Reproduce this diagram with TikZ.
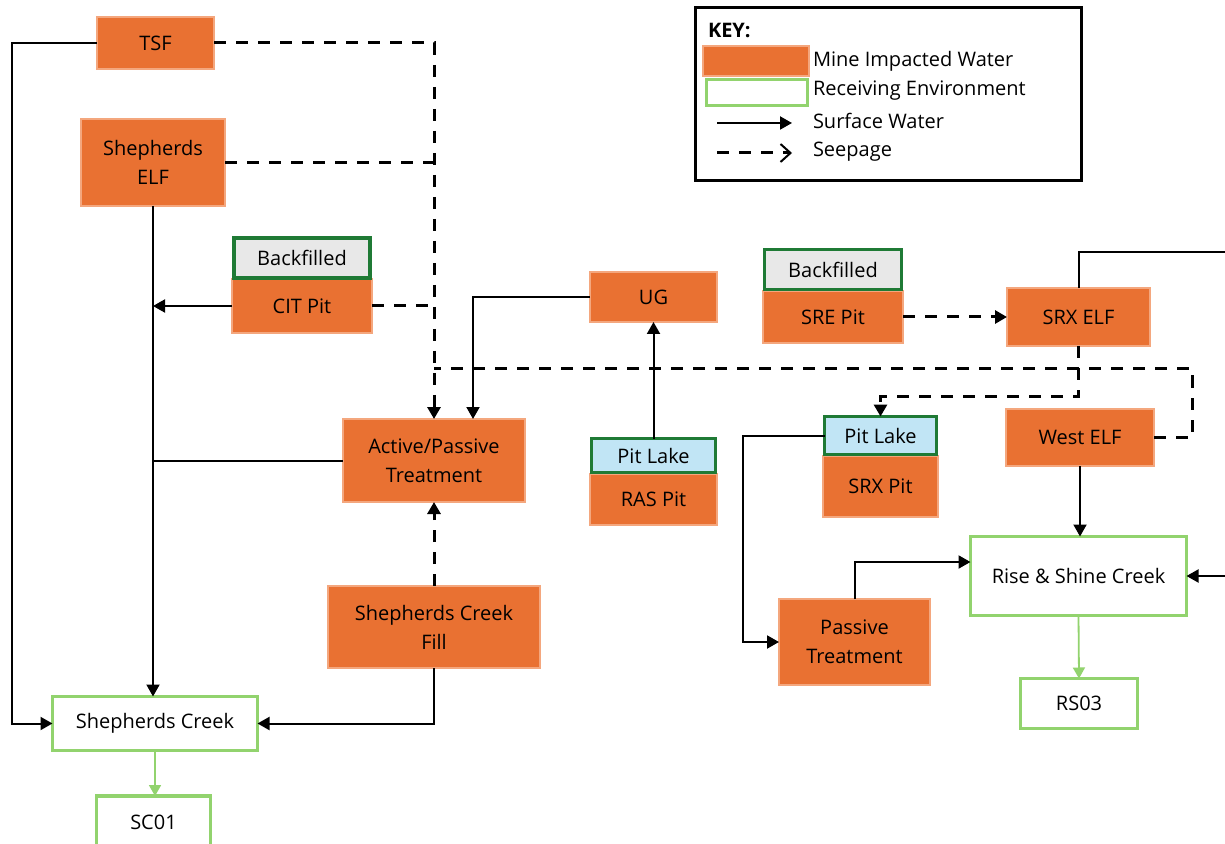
\documentclass[tikz,border=0pt]{standalone}
\usepackage{fontspec}
\setmainfont{Open Sans}
\usetikzlibrary{arrows.meta,calc}
\definecolor{mineor}{HTML}{E97132}
\definecolor{mineedge}{HTML}{F4A77E}
\definecolor{recgreen}{HTML}{92D36E}
\definecolor{darkgr}{HTML}{1F7A35}
\definecolor{lakeblue}{HTML}{C1E5F5}
\definecolor{bfgrey}{HTML}{E8E8E8}
\begin{document}
\begin{tikzpicture}[x=0.5pt,y=-0.5pt,
  every node/.style={font=\fontsize{10}{14.5}\selectfont, inner sep=0pt, outer sep=0pt, align=center},
  mine/.style={fill=mineor, draw=mineedge, line width=0.6pt},
  recv/.style={fill=white, draw=recgreen, line width=1.6pt},
  lake/.style={fill=lakeblue, draw=darkgr, line width=1.6pt},
  backf/.style={fill=bfgrey, draw=darkgr, line width=1.6pt},
  sw/.style={draw=black, line width=1pt, -{Triangle[length=6pt,width=6.5pt]}},
  swl/.style={draw=black, line width=1pt},
  seep/.style={draw=black, line width=1.5pt, dash pattern=on 6pt off 5pt, -{Triangle[length=6pt,width=6.5pt]}},
  seepl/.style={draw=black, line width=1.5pt, dash pattern=on 6pt off 5pt},
  grn/.style={draw=recgreen, line width=0.9pt, -{Triangle[length=5.5pt,width=6pt]}},
  keytext/.style={anchor=west},
]
\useasboundingbox (0,0) rectangle (1225,844);
\clip (0,0) rectangle (1225,844);
\fill[white] (0,0) rectangle (1225,844);

% ---- nodes ----
\node[mine, minimum width=58.5pt, minimum height=26pt] (TSF) at (155.5,43) {TSF};
\node[mine, minimum width=72pt, minimum height=43.5pt] (SELF) at (153,162.5) {Shepherds\\ELF};
\node[mine, minimum width=70pt, minimum height=27pt] (CIT) at (302,306) {CIT Pit};
\node[backf, minimum width=68pt, minimum height=20pt] (CITbf) at (302,258) {Backfilled};
\node[mine, minimum width=91pt, minimum height=41.5pt] (APT) at (434,460.5) {Active/Passive\\Treatment};
\node[mine, minimum width=106pt, minimum height=41pt] (SCF) at (434,627) {Shepherds Creek\\Fill};
\node[recv, minimum width=102.5pt, minimum height=27pt] (SC) at (155,723.5) {Shepherds Creek};
\node[recv, minimum width=57pt, minimum height=26pt] (SC01) at (153.5,822) {SC01};
\node[mine, minimum width=63.5pt, minimum height=25pt] (UG) at (653.5,297) {UG};
\node[mine, minimum width=70pt, minimum height=26pt] (SRE) at (833,317) {SRE Pit};
\node[backf, minimum width=68.5pt, minimum height=20pt] (SREbf) at (833,269.5) {Backfilled};
\node[mine, minimum width=71.5pt, minimum height=29pt] (SRXELF) at (1078.5,317) {SRX ELF};
\node[mine, minimum width=63.5pt, minimum height=25.5pt] (RAS) at (653.5,499.5) {RAS Pit};
\node[lake, minimum width=62pt, minimum height=17pt] (RASpl) at (653.5,455.5) {Pit Lake};
\node[mine, minimum width=57.5pt, minimum height=30.5pt] (SRX) at (880.5,486.5) {SRX Pit};
\node[lake, minimum width=56pt, minimum height=19pt] (SRXpl) at (880.5,435.5) {Pit Lake};
\node[mine, minimum width=74pt, minimum height=28.5pt] (WELF) at (1080,437.5) {West ELF};
\node[recv, minimum width=108pt, minimum height=39.5pt] (RSC) at (1078.5,576) {Rise \& Shine Creek};
\node[mine, minimum width=75.5pt, minimum height=43pt] (PT) at (854.5,642) {Passive\\Treatment};
\node[recv, minimum width=58.5pt, minimum height=25pt] (RS03) at (1079,703.5) {RS03};

% ---- key ----
\node[draw=black, line width=1.5pt, minimum width=193pt, minimum height=86.5pt] (keybox) at (888,94.5) {};
\node[keytext, font=\fontsize{10}{12}\bfseries] (keyt) at (708,30) {KEY:};
\node[mine, minimum width=53pt, minimum height=15pt] (ksw1) at (756,61) {};
\node[recv, minimum width=50.5pt, minimum height=13pt] (ksw2) at (757,92.5) {};
\node[keytext] (kt1) at (813,61) {Mine Impacted Water};
\node[keytext] (kt2) at (813,91) {Receiving Environment};
\node[keytext] (kt3) at (813,121) {Surface Water};
\node[keytext] (kt4) at (813,152) {Seepage};
\coordinate (ka1) at (717,123); \coordinate (kb1) at (792,123);
\coordinate (ka2) at (717,153); \coordinate (kb2) at (792,153);
\draw[sw] (ka1) -- (kb1);
\draw[seepl, -{Straight Barb[length=5pt,width=9pt,line width=1pt]}] (ka2) -- (kb2);

% ---- connectors ----
\coordinate (seepY) at (0,369);
% TSF surface water to Shepherds Creek
\draw[sw] (TSF.west) -- ++(-85,0) |- (SC.west);
% seepage collection to Active/Passive Treatment
\draw[seep] (TSF.east) -| (APT.north);
\draw[seepl] (SELF.east) -- (SELF.east -| APT.north);
\draw[seepl] (CIT.east) -- (CIT.east -| APT.north);
\draw[seepl] (WELF.east) -- ++(38,0) coordinate (wr) -- (wr |- seepY) -- (APT.north |- seepY);
% Shepherds ELF to Shepherds Creek
\draw[sw] (SELF.south) -- (SELF.south |- SC.north);
\draw[sw] (CIT.west) -- (CIT.west -| SELF.south);
\draw[swl] (APT.west) -- (APT.west -| SELF.south);
% UG to treatment
\draw[sw] (UG.west) -| ($(APT.north)+(39,0)$);
\draw[sw] (RASpl.north) -- (UG.south);
% SRE / SRX
\draw[seep] (SRE.east) -- (SRXELF.west);
\draw[seep] (SRXELF.south) -- ++(0,50) -| (SRXpl.north);
\draw[sw] (SRXpl.west) -- ++(-82,0) |- (PT.west);
\draw[sw] (PT.north) |- ($(RSC.west)+(0,-14)$);
\draw[sw] (WELF.south) -- (WELF.south |- RSC.north);
\draw[sw] (SRXELF.north) -- ++(0,-36) -- ++(200,0) |- (RSC.east);
% Shepherds Creek Fill
\draw[seep] (SCF.north) -- (APT.south);
\draw[sw] (SCF.south) |- (SC.east);
% receiving environment monitoring
\draw[grn] (SC.south) -- (SC.south |- SC01.north);
\draw[grn] (RSC.south) -- (RS03.north);
\end{tikzpicture}
\end{document}
